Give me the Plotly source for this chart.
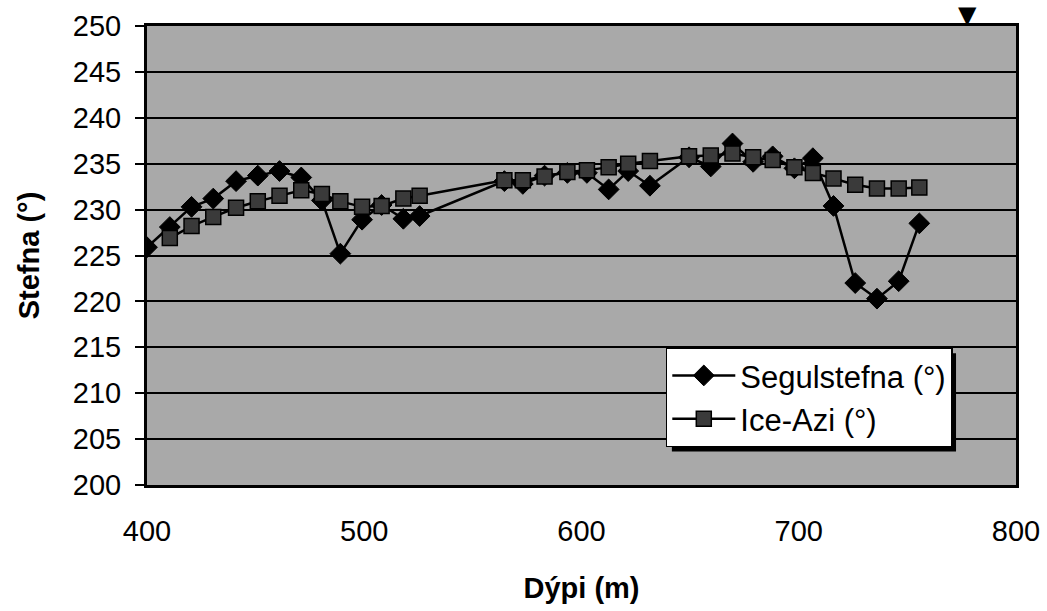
import plotly.graph_objects as go

# ---- data ----
seg_depth = [400, 410.5, 420.5, 430.5, 441, 451, 461, 471, 480.5, 489, 499, 508, 518, 525.5,
             564.5, 573, 583, 593.5, 602.5, 612.5, 621.5, 631.5, 649.5, 659.5, 669.5, 679, 688,
             698, 706.5, 716, 726, 736, 746, 755.5]
seg_values = [225.9, 228.1, 230.3, 231.2, 233.1, 233.7, 234.2, 233.5, 231.0, 225.2, 228.9, 230.5,
              229.0, 229.3, 233.1, 232.8, 233.7, 234.0, 234.0, 232.2, 234.2, 232.6, 235.7, 234.7,
              237.2, 235.2, 235.8, 234.5, 235.6, 230.4, 222.0, 220.3, 222.2, 228.5]

ice_depth = [410.5, 420.5, 430.5, 441, 451, 461, 471, 480.5, 489, 499, 508, 518, 525.5,
             564.5, 573, 583, 593.5, 602.5, 612.5, 621.5, 631.5, 649.5, 659.5, 669.5, 679, 688,
             698, 706.5, 716, 726, 736, 746, 755.5]
ice_values = [226.9, 228.2, 229.2, 230.2, 230.9, 231.5, 232.1, 231.7, 230.9, 230.3, 230.4, 231.2,
              231.5, 233.2, 233.2, 233.6, 234.1, 234.3, 234.6, 235.0, 235.3, 235.8, 235.9, 236.1,
              235.7, 235.4, 234.6, 234.0, 233.4, 232.7, 232.3, 232.3, 232.4]

marker_depth = 777.5      # downward triangle above the plot

x_ticks = [400, 500, 600, 700, 800]
y_ticks = [200, 205, 210, 215, 220, 225, 230, 235, 240, 245, 250]

FONT = "Liberation Sans, Arial, sans-serif"

fig = go.Figure()
fig.add_trace(go.Scatter(
    x=seg_depth, y=seg_values, mode="lines+markers", name="Segulstefna (°)",
    line=dict(color="black", width=2.5),
    marker=dict(symbol="diamond", size=16, color="black", line=dict(color="black", width=1)),
))
fig.add_trace(go.Scatter(
    x=ice_depth, y=ice_values, mode="lines+markers", name="Ice-Azi (°)",
    line=dict(color="black", width=2.5),
    marker=dict(symbol="square", size=15, color="#3a3a3a", line=dict(color="black", width=1.5)),
))

# triangle marker above the plot
fig.add_annotation(x=marker_depth, xref="x", y=1.0, yref="paper", yanchor="bottom",
                   text="▼", showarrow=False, yshift=-5,
                   font=dict(family="DejaVu Sans", size=24, color="black"))

# legend shadow
fig.add_shape(type="rect", xref="paper", yref="paper",
              x0=0.604, x1=0.931, y0=0.073, y1=0.287,
              fillcolor="black", line=dict(width=0), layer="above")

fig.update_layout(
    width=1047, height=611,
    margin=dict(l=147, r=31, t=26, b=126),
    paper_bgcolor="white",
    plot_bgcolor="#a9a9a9",
    font=dict(family=FONT, size=29, color="black"),
    showlegend=True,
    legend=dict(
        x=0.597, y=0.30, xanchor="left", yanchor="top",
        bgcolor="white", bordercolor="black", borderwidth=1.5,
        font=dict(family=FONT, size=31, color="black"),
        tracegroupgap=0, itemwidth=63,
    ),
    xaxis=dict(
        range=[400, 800], tickvals=x_ticks, ticktext=[str(v) for v in x_ticks],
        showgrid=False, zeroline=False, ticks="", ticklabelstandoff=18,
        showline=True, linecolor="black", linewidth=3, mirror=True, automargin=False,
        tickfont=dict(family=FONT, size=29),
        title=dict(text="<b>Dýpi (m)</b>", font=dict(family=FONT, size=29), standoff=32),
    ),
    yaxis=dict(
        range=[200, 250], tickvals=y_ticks, ticktext=[str(v) for v in y_ticks],
        showgrid=True, gridcolor="black", gridwidth=1.5, zeroline=False,
        ticks="outside", ticklen=9, tickcolor="black", tickwidth=1.5, ticklabelstandoff=8,
        showline=True, linecolor="black", linewidth=3, mirror=True, automargin=False,
        tickfont=dict(family=FONT, size=29),
        title=dict(text="<b>Stefna (°)</b>", font=dict(family=FONT, size=29), standoff=25),
    ),
)

fig.write_html("out.html")
